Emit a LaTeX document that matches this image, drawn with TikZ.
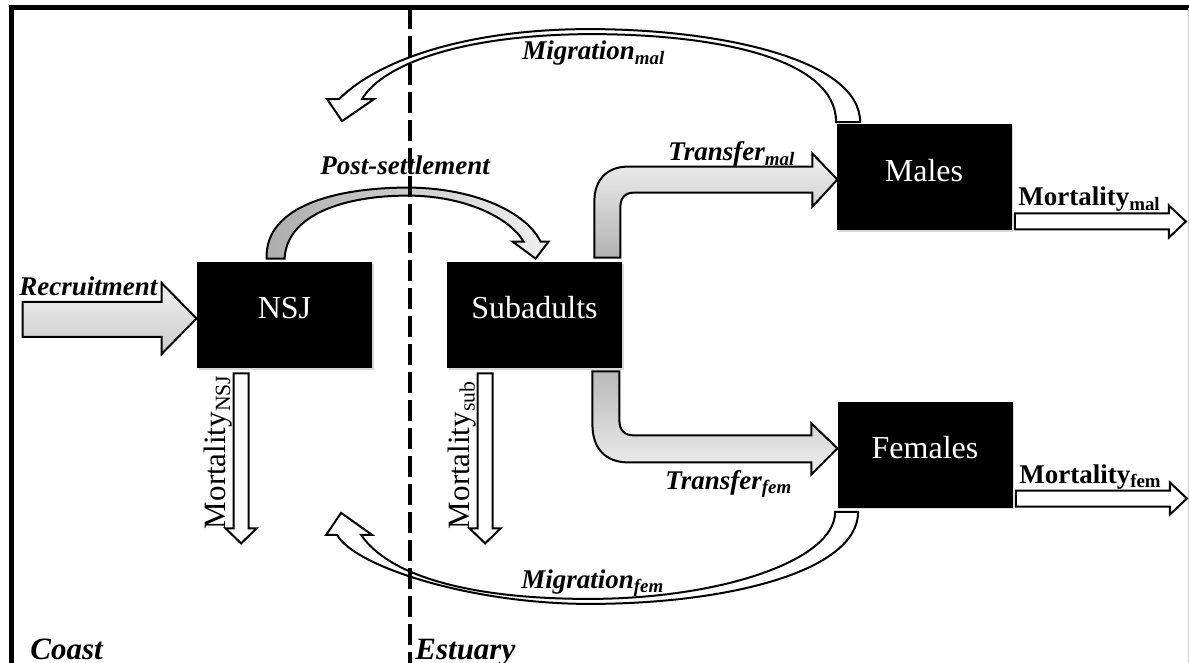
\documentclass[tikz,border=0pt]{standalone}
\usepackage{fontspec}
\setmainfont{Liberation Serif}
\usetikzlibrary{shadows}

\tikzset{
  stage/.style={fill=black, text=white, inner sep=0pt,
    minimum width=87.5pt, minimum height=53pt,
    text height=11pt, text depth=7pt,
    font=\fontsize{16}{19}\selectfont,
    drop shadow={shadow xshift=.8pt, shadow yshift=-.8pt, opacity=.3}},
  rate/.style={font=\fontsize{13.5}{16}\selectfont\bfseries\itshape, inner sep=0pt},
  loss/.style={font=\fontsize{13.5}{16}\selectfont\bfseries, inner sep=0pt, anchor=base west},
  vloss/.style={font=\fontsize{15.5}{18}\selectfont, inner sep=0pt, rotate=90, anchor=base west},
  zone/.style={font=\fontsize{15.5}{18}\selectfont\bfseries\itshape, inner sep=0pt, anchor=base west},
  whitearrow/.style={draw=black, line width=1pt, line join=miter, fill=white},
  grayarrow/.style={draw=black, line width=1pt, line join=miter}
}

\begin{document}
\begin{tikzpicture}[x=0.5pt, y=-0.5pt]
\useasboundingbox (0,0) rectangle (1189,663);

% frame
\draw[line width=2.5pt] (11.5,663) -- (11.5,8) -- (1189,8);
\draw[gray!40, line width=.5pt] (1188,8) -- (1188,663);

% stages
\node[stage] (nsj) at (284.5,315) {NSJ};
\node[stage] (sub) at (534.5,315) {Subadults};
\node[stage] (males) at (924,177.5) {Males};
\node[stage] (fem) at (925,454.5) {Females};

% recruitment into NSJ
\begin{scope}[shift={(nsj.west)}]
\draw[grayarrow, top color=gray!12, bottom color=gray!40]
  (-174,-13) -- (-35,-13) -- (-35,-32) -- (0,3.5) -- (-35,39) -- (-35,22) -- (-174,22) -- cycle;
\end{scope}
\node[rate, anchor=base west] (lrec) at (19,296) {Recruitment};

% post-settlement
\begin{scope}[shift={(nsj.north west)}]
\draw[grayarrow, left color=gray!65, right color=gray!12]
  (70,-3) .. controls (68,-57) and (143,-74) .. (211,-74)
  .. controls (273,-74) and (328,-52) .. (344,-20)
  -- (352,-20) -- (339,-3) -- (316,-20) -- (327,-20)
  .. controls (313,-44) and (268,-66) .. (211,-66)
  .. controls (148,-66) and (90,-47) .. (88,-3) -- cycle;
\end{scope}
\node[rate, anchor=base] (lpost) at (405,175) {Post-settlement};

% transfers
\begin{scope}[shift={(sub.north east)}]
\draw[grayarrow, top color=gray!10, bottom color=gray!60]
  (-28,-4) -- (-28,-61) .. controls (-28,-80) and (-17,-95) .. (6,-95)
  -- (190,-95) -- (190,-108) -- (215,-82) -- (190,-55) -- (190,-69)
  -- (12,-69) .. controls (3,-69) and (-2,-64) .. (-2,-55) -- (-2,-4) -- cycle;
\end{scope}
\begin{scope}[shift={(sub.south east)}]
\draw[grayarrow, top color=gray!55, bottom color=gray!12]
  (-30,3) -- (-3,3) -- (-3,52) .. controls (-3,62) and (2,67) .. (12,67)
  -- (189,67) -- (189,55) -- (215,80) -- (189,106) -- (189,94)
  -- (6,94) .. controls (-17,94) and (-30,80) .. (-30,56) -- cycle;
\end{scope}
\node[rate, anchor=base west] (ltrm) at (668,161) {Transfer\textsubscript{mal}};
\node[rate, anchor=base west] (ltrf) at (665,489) {Transfer\textsubscript{fem}};

% migrations back to the coast
\begin{scope}[shift={(males.north west)}]
\draw[whitearrow]
  (24,-2) .. controls (24,-65) and (-117,-95) .. (-247,-95)
  .. controls (-367,-95) and (-457,-65) .. (-497,-25)
  -- (-509,-25) -- (-494,-3) -- (-462,-25) -- (-474,-25)
  .. controls (-457,-55) and (-387,-89) .. (-247,-90)
  .. controls (-117,-90) and (0,-65) .. (0,-2) -- cycle;
\end{scope}
\begin{scope}[shift={(fem.south west)}]
\draw[whitearrow]
  (-2,4) .. controls (-2,53) and (-118,91) .. (-248,91)
  .. controls (-368,91) and (-448,68) .. (-476,27)
  -- (-465,27) -- (-496,5) -- (-511,27) -- (-500,27)
  .. controls (-483,58) and (-368,96) .. (-248,96)
  .. controls (-108,96) and (21,63) .. (21,4) -- cycle;
\end{scope}
\node[rate, anchor=base west] (lmigm) at (522,60) {Migration\textsubscript{mal}};
\node[rate, anchor=base west] (lmigf) at (521,588) {Migration\textsubscript{fem}};

% mortality
\foreach \b/\dx/\s in {nsj/37/NSJ, sub/31/sub}{
\begin{scope}[shift={(\b.south west)}]
\draw[whitearrow] (\dx,5) -- ++(15,0) -- ++(0,155) -- ++(8,0) -- ++(-15.5,15)
  -- ++(-15.5,-15) -- ++(8,0) -- cycle;
\node[vloss] (mort\b) at (\dx-8,161) {Mortality\textsubscript{\s}};
\end{scope}}
\foreach \b/\s in {males/mal, fem/fem}{
\begin{scope}[shift={(\b.east)}]
\draw[whitearrow] (3,36) -- (157,36) -- (157,28) -- (174,44) -- (157,60) -- (157,52) -- (3,52) -- cycle;
\node[loss] (mort\b) at (6,28.5) {Mortality\textsubscript{\s}};
\end{scope}}

% zones
\node[zone] (coast) at (30,659) {Coast};
\node[zone] (estuary) at (415,659) {Estuary};
\draw[line width=1.6pt, dash pattern=on 10.5pt off 3.5pt] (410,8) -- (410,663);

\end{tikzpicture}
\end{document}
